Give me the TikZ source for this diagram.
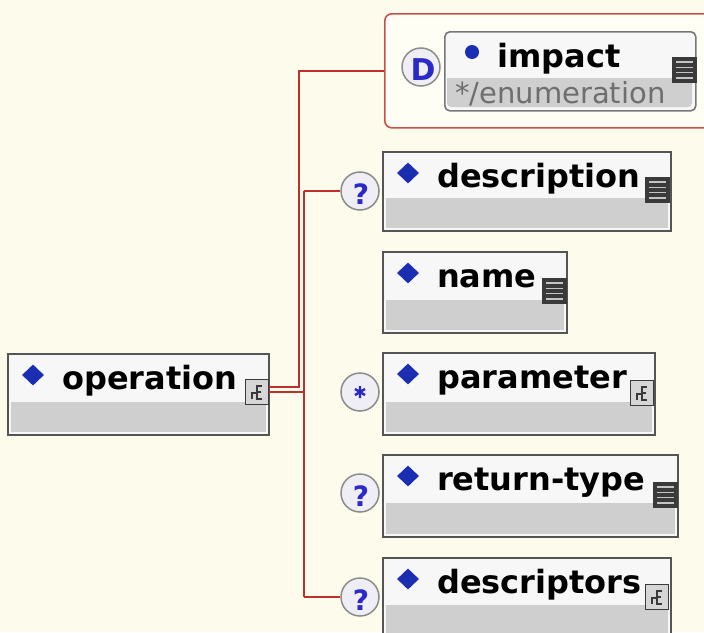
\documentclass[tikz,border=0pt]{standalone}
\usepackage{fontspec}
\setmainfont{DejaVu Sans}
\usetikzlibrary{shapes.geometric}
\definecolor{bgc}{HTML}{FDFCEC}
\definecolor{grpfill}{HTML}{FFFEF4}
\definecolor{redc}{HTML}{BF302C}
\definecolor{boxline}{HTML}{555555}
\definecolor{topfill}{HTML}{F7F7F7}
\definecolor{lowfill}{HTML}{CFCFCF}
\definecolor{dia}{HTML}{1B2DB0}
\definecolor{qblue}{HTML}{2A2AC8}
\definecolor{icondark}{HTML}{3A3A3A}
\definecolor{iconline}{HTML}{C4C4C4}
\definecolor{elemfill}{HTML}{D6D6D6}
\definecolor{circfill}{HTML}{EEEEF4}
\definecolor{circline}{HTML}{8C8C8C}
\definecolor{enumc}{HTML}{6E6E6E}
\tikzset{
  redline/.style={draw=redc, line width=2.6pt},
  lbl/.style={anchor=base west, inner sep=0pt, font=\fontsize{32}{36}\selectfont\bfseries},
  dmark/.style={diamond, fill=dia, minimum width=22pt, minimum height=21pt, inner sep=0pt},
  occ/.style={circle, draw=circline, fill=circfill, line width=1.5pt, minimum size=38pt, inner sep=0pt},
  qmark/.style={inner sep=0pt, text=qblue, font=\fontsize{28}{30}\selectfont\bfseries},
  boxframe/.style={draw=boxline, line width=1.6pt, inner sep=0pt, outer sep=0pt, anchor=north west}
}
% name, x1, y1, x2, y2, ysplit, label
\newcommand\elbox[7]{%
  \fill[topfill] (#2,#3) rectangle (#4,#5);
  \fill[lowfill] (#2+3,#6) rectangle (#4-3,#5-3);
  \node[boxframe, minimum width={#4pt-#2pt}, minimum height={#5pt-#3pt}] (#1) at (#2,#3) {};
  \node[dmark] (#1-d) at (#2+25,#3+21) {};
  \node[lbl] (#1-t) at (#2+54,#3+35) {#7};
}
\newcommand\leaficon[3]{%
  \node[fill=icondark, inner sep=0pt, minimum width=25pt, minimum height=26pt, anchor=north west] (#1) at (#2,#3) {};
  \foreach \k in {1,2,3,4} \draw[iconline, line width=1.6pt] (#2+4,#3+\k*5.2) -- (#2+21,#3+\k*5.2);
}
\newcommand\elemicon[3]{%
  \node[fill=elemfill, draw=icondark, line width=1.2pt, inner sep=0pt, minimum width=23pt, minimum height=25pt, anchor=north west] (#1) at (#2,#3) {};
  \draw[icondark, line width=1.5pt] (#2+7,#3+20) -- (#2+7,#3+14) -- (#2+11,#3+14);
  \draw[icondark, line width=1.5pt] (#2+17,#3+7) -- (#2+12,#3+7) -- (#2+12,#3+20) -- (#2+17,#3+20);
  \draw[icondark, line width=1.3pt] (#2+12,#3+13) -- (#2+16,#3+13);
}
\begin{document}
\begin{tikzpicture}[x=1pt, y=-1pt]
\clip (0,0) rectangle (704,632);
\fill[bgc] (0,0) rectangle (704,632);

% impact group
\node[draw=redc!85, line width=1.6pt, rounded corners=7pt, fill=grpfill, inner sep=0pt,
      minimum width=340pt, minimum height=114pt, anchor=north west] (impgrp) at (384,13) {};
\fill[topfill, rounded corners=5pt] (444,31) rectangle (695,110);
\fill[lowfill] (447,78) -- (692,78) [rounded corners=4pt]-- (692,107) -- (447,107) [sharp corners]-- cycle;
\node[draw=boxline!80, line width=1.6pt, rounded corners=5pt, inner sep=0pt, anchor=north west,
      minimum width=251pt, minimum height=79pt] (imp) at (444,31) {};
\node[circle, fill=dia, minimum size=14pt, inner sep=0pt] (imp-b) at (472,52) {};
\node[lbl] (imp-t) at (497,67) {impact};
\node[anchor=base west, inner sep=0pt, text=enumc, font=\fontsize{29}{32}\selectfont] (imp-e) at (455,103) {*/enumeration};
\leaficon{imp-i}{672}{57}
\node[occ] (dcirc) at (421,67) {};
\node[qmark, font=\fontsize{30}{32}\selectfont\bfseries] (dcirc-t) at (423,70) {D};

% operation
\elbox{op}{8}{354}{269}{435}{402}{operation}
\elemicon{op-i}{245}{379}

% children
\elbox{desc}{383}{152}{671}{231}{198}{description}
\leaficon{desc-i}{645}{177}
\elbox{name}{383}{252}{567}{333}{300}{name}
\leaficon{name-i}{542}{278}
\elbox{par}{383}{353}{655}{435}{402}{parameter}
\elemicon{par-i}{630}{380}
\elbox{ret}{383}{455}{678}{537}{503}{return-type}
\leaficon{ret-i}{653}{482}
\elbox{dsc}{383}{558}{671}{645}{605}{descriptors}
\elemicon{dsc-i}{645}{584}

% occurrence circles
\node[occ] (c-desc) at (360,191) {};
\node[qmark] (c-desc-t) at (361,194) {?};
\node[occ] (c-par) at (360,392) {};
\draw[qblue, line width=2.4pt] (360,386) -- (360,398) (355,389) -- (365,395) (355,395) -- (365,389);
\node[occ] (c-ret) at (360,493) {};
\node[qmark] (c-ret-t) at (361,496) {?};
\node[occ] (c-dsc) at (360,597) {};
\node[qmark] (c-dsc-t) at (361,600) {?};

% connectors
\coordinate (ja) at (299,387);
\coordinate (jb) at (304,392);
\coordinate (jt) at (304,191);
\coordinate (jd) at (304,597);
\draw[redline] (op.east |- ja) -- (ja) |- (impgrp.west);
\draw[redline] (op.east |- jb) -- (jb);
\draw[redline] (jt) -- (jd);
\draw[redline] (jt) -- (c-desc.west);
\draw[redline] (jd) -- (c-dsc.west);
\end{tikzpicture}
\end{document}
